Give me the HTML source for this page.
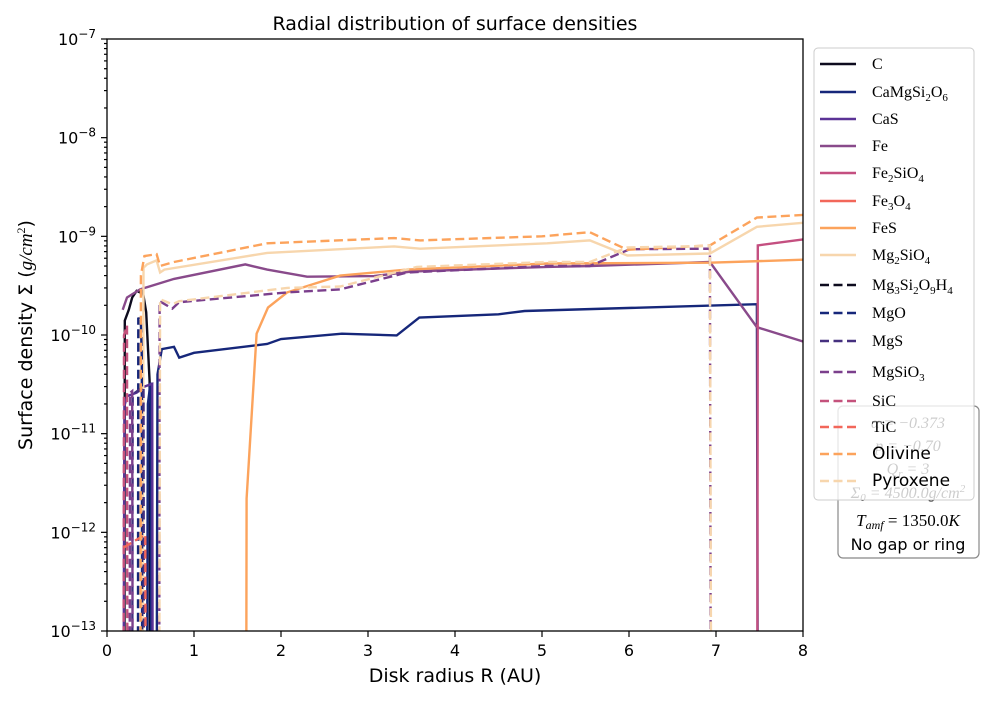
<!DOCTYPE html>
<html><head><meta charset="utf-8"><style>
html,body{margin:0;padding:0;background:#fff;}
svg text{font-family:"DejaVu Sans","Liberation Sans",sans-serif;}
.serif{font-family:"Liberation Serif","DejaVu Serif",serif;}
</style></head><body>
<svg id="chart" width="1000" height="700" xmlns="http://www.w3.org/2000/svg">
<defs><clipPath id="pc"><rect x="107" y="39" width="696" height="592"/></clipPath></defs>
<text x="455" y="30" font-size="19" text-anchor="middle">Radial distribution of surface densities</text>
<text x="455" y="682" font-size="19" text-anchor="middle">Disk radius R (AU)</text>
<text transform="translate(32,335) rotate(-90)" font-size="19" text-anchor="middle">Surface density Σ (<tspan class="serif" font-style="italic">g/cm</tspan><tspan font-size="12" dy="-7" class="serif">2</tspan><tspan dy="7">)</tspan></text>
<g id="series" clip-path="url(#pc)"></g>
<rect x="107" y="39" width="696" height="592" fill="none" stroke="#000" stroke-width="1.3"/>
<g id="axes"></g>
<g>
<rect x="838" y="406" width="141" height="152" rx="5" fill="#fff" stroke="#888" stroke-width="1.2"/>
<text class="serif" x="908" y="428" font-size="16" text-anchor="middle" font-style="italic">α = −0.373</text>
<text class="serif" x="908" y="451" font-size="16" text-anchor="middle" font-style="italic">p = −0.70</text>
<text class="serif" x="908" y="474" font-size="16" text-anchor="middle" font-style="italic">Q<tspan font-size="11" dy="3">r</tspan><tspan dy="-3"> = 3</tspan></text>
<text class="serif" x="908" y="498" font-size="16" text-anchor="middle" font-style="italic">Σ<tspan font-size="11" dy="3">0</tspan><tspan dy="-3"> = 4500.0g/cm</tspan><tspan font-size="11" dy="-6">2</tspan></text>
<text class="serif" x="908" y="526" font-size="17" text-anchor="middle"><tspan font-style="italic">T</tspan><tspan font-size="12" dy="3" font-style="italic">amf</tspan><tspan dy="-3"> = 1350.0</tspan><tspan font-style="italic">K</tspan></text>
<text x="908" y="550" font-size="16" text-anchor="middle">No gap or ring</text>
</g>
<g id="legend">
<rect x="814" y="48" width="160" height="452" rx="4" fill="rgba(255,255,255,0.8)" stroke="#ccc" stroke-width="1"/>
</g>
</svg>
<script>
const NS='http://www.w3.org/2000/svg';
const names=['C','CaMgSi2O6','CaS','Fe','Fe2SiO4','Fe3O4','FeS','Mg2SiO4','Mg3Si2O9H4','MgO','MgS','MgSiO3','SiC','TiC','Olivine','Pyroxene'];
const colors=['#0d0b1e','#16277a','#5b3396','#894a8b','#c44f80','#f2675a','#fca35c','#f7d6ad','#0d0b1e','#16277a','#45307f','#7b3f8c','#c4527c','#f2675a','#fca35c','#f7d6ad'];
const dashed=[false,false,false,false,false,false,false,false,true,true,true,true,true,true,true,true];
const xTicks=[0,1,2,3,4,5,6,7,8];
const yTickExp=[-13,-12,-11,-10,-9,-8,-7];
const sC=[[0.2,1e-14],[0.205,1.4e-10],[0.25,1.8e-10],[0.29,2.4e-10],[0.34,2.8e-10],[0.38,2.7e-10],[0.41,2.8e-10],[0.45,1.7e-10],[0.49,3.4e-11],[0.495,1e-14]];
const sCaMgSi2O6=[[0.46,1e-14],[0.47,2e-11],[0.5,3.3e-11],[0.51,1e-14],[0.57,1e-14],[0.58,4e-11],[0.63,7.2e-11],[0.77,7.6e-11],[0.83,5.9e-11],[1.0,6.6e-11],[1.84,8.1e-11],[2.0,9.1e-11],[2.7,1.03e-10],[3.33,9.9e-11],[3.59,1.5e-10],[4.5,1.62e-10],[4.8,1.75e-10],[7.47,2.05e-10],[7.48,1e-14]];
const sCaS=[[0.19,1e-14],[0.2,1.9e-11],[0.23,2.4e-11],[0.34,2.6e-11],[0.43,3e-11],[0.52,3.2e-11],[0.525,1e-14]];
const sFe=[[0.18,1.8e-10],[0.23,2.4e-10],[0.38,2.9e-10],[0.77,3.7e-10],[1.59,5.2e-10],[1.84,4.6e-10],[2.3,3.9e-10],[3.07,3.95e-10],[3.5,4.4e-10],[5.06,4.9e-10],[5.55,5.0e-10],[6.93,5.5e-10],[7.47,1.2e-10],[8,8.6e-11]];
const sFe2SiO4=[[7.475,1e-14],[7.48,8.1e-10],[8,9.3e-10]];
const sFe3O4=[];
const sFeS=[[1.6,1e-14],[1.605,2.2e-12],[1.72,1.03e-10],[1.85,1.9e-10],[2.07,2.7e-10],[2.68,4.0e-10],[3.45,4.6e-10],[5.06,5.3e-10],[6.93,5.4e-10],[8,5.8e-10]];
const sMg2SiO4=[[0.41,1e-14],[0.42,4.8e-10],[0.46,5.2e-10],[0.57,5.7e-10],[0.61,4.3e-10],[0.66,4.6e-10],[1.84,6.8e-10],[3.3,7.9e-10],[3.6,7.5e-10],[5.06,8.5e-10],[5.55,9.1e-10],[5.98,6.4e-10],[6.93,6.7e-10],[7.47,1.25e-9],[8,1.37e-9]];
const sMg3Si2O9H4=[];
const sMgO=[[0.355,1e-14],[0.36,1.5e-10],[0.39,1.3e-10],[0.4,6e-11],[0.405,1e-14]];
const sMgS=[[0.29,1e-14],[0.295,2.5e-11],[0.42,3e-11],[0.425,1e-14]];
const sMgSiO3=[[0.26,1e-14],[0.265,2.6e-11],[0.29,2.7e-11],[0.295,1e-14],[0.6,1e-14],[0.605,2.2e-10],[0.75,1.85e-10],[0.83,2.15e-10],[2.07,2.7e-10],[2.68,2.9e-10],[3.45,4.3e-10],[5.06,5.0e-10],[5.55,5.0e-10],[6.01,7.4e-10],[6.93,7.5e-10],[6.94,1e-14]];
const sSiC=[[0.19,1e-14],[0.195,1.0e-10],[0.23,1.25e-10],[0.235,1e-14]];
const sTiC=[[0.19,7e-13],[0.44,9.5e-13],[0.445,1e-14]];
const sOlivine=[[0.385,1e-14],[0.39,4e-10],[0.43,6.3e-10],[0.57,6.6e-10],[0.61,5.0e-10],[0.77,5.5e-10],[1.84,8.5e-10],[3.3,9.6e-10],[3.6,9.1e-10],[5.0,1.0e-9],[5.55,1.1e-9],[5.98,7.3e-10],[6.93,8.1e-10],[7.47,1.55e-9],[8,1.65e-9]];
const sPyroxene=[[0.6,1e-14],[0.61,2.3e-10],[0.75,2.05e-10],[0.83,2.2e-10],[2.07,3.0e-10],[2.68,3.1e-10],[3.56,4.9e-10],[5.06,5.5e-10],[5.55,5.5e-10],[5.98,7.7e-10],[6.93,8.0e-10],[6.945,1e-14]];
const allSeries=[sC,sCaMgSi2O6,sCaS,sFe,sFe2SiO4,sFe3O4,sFeS,sMg2SiO4,sMg3Si2O9H4,sMgO,sMgS,sMgSiO3,sSiC,sTiC,sOlivine,sPyroxene];
const X0=107,X1=803,Y0=631,Y1=39;
function xs(r){return X0+(r-0)/(8-0)*(X1-X0);}
function ys(v){return Y0-(Math.log10(v)-(-13))/6*(Y0-Y1);}
const sg=document.getElementById('series');
allSeries.forEach((s,i)=>{
  if(!s.length)return;
  const p=document.createElementNS(NS,'path');
  p.setAttribute('d',s.map((pt,j)=>(j?'L':'M')+xs(pt[0]).toFixed(1)+','+ys(pt[1]).toFixed(1)).join(''));
  p.setAttribute('fill','none');p.setAttribute('stroke',colors[i]);p.setAttribute('stroke-width','2.4');
  if(dashed[i])p.setAttribute('stroke-dasharray','9,4.5');
  
  
  sg.appendChild(p);
});
const ax=document.getElementById('axes');
function line(x1,y1,x2,y2,n){const l=document.createElementNS(NS,'line');l.setAttribute('x1',x1);l.setAttribute('y1',y1);l.setAttribute('x2',x2);l.setAttribute('y2',y2);l.setAttribute('stroke','#000');l.setAttribute('stroke-width','1.2');


ax.appendChild(l);}
xTicks.forEach(t=>{const x=xs(t);line(x,631,x,637,'x-tick');
 const tx=document.createElementNS(NS,'text');tx.setAttribute('x',x);tx.setAttribute('y',656);tx.setAttribute('font-size','16');tx.setAttribute('text-anchor','middle');tx.textContent=t;
 
 
 ax.appendChild(tx);});
yTickExp.forEach(e=>{const y=ys(Math.pow(10,e));line(101,y,107,y,'y-tick');
 if(e<-7){for(let k=2;k<10;k++){const yy=ys(k*Math.pow(10,e));line(104,yy,107,yy,'y-minor-tick');}}
 const tx=document.createElementNS(NS,'text');tx.setAttribute('x',96);tx.setAttribute('y',y+6);tx.setAttribute('font-size','16');tx.setAttribute('text-anchor','end');
 tx.innerHTML='10<tspan font-size="12" dy="-7">−'+(-e)+'</tspan>';
 
 
 ax.appendChild(tx);});
const lg=document.getElementById('legend');
const labelHtml=['C','CaMgSi<tspan font-size="11" dy="4">2</tspan><tspan dy="-4">O</tspan><tspan font-size="11" dy="4">6</tspan>','CaS','Fe','Fe<tspan font-size="11" dy="4">2</tspan><tspan dy="-4">SiO</tspan><tspan font-size="11" dy="4">4</tspan>','Fe<tspan font-size="11" dy="4">3</tspan><tspan dy="-4">O</tspan><tspan font-size="11" dy="4">4</tspan>','FeS','Mg<tspan font-size="11" dy="4">2</tspan><tspan dy="-4">SiO</tspan><tspan font-size="11" dy="4">4</tspan>','Mg<tspan font-size="11" dy="4">3</tspan><tspan dy="-4">Si</tspan><tspan font-size="11" dy="4">2</tspan><tspan dy="-4">O</tspan><tspan font-size="11" dy="4">9</tspan><tspan dy="-4">H</tspan><tspan font-size="11" dy="4">4</tspan>','MgO','MgS','MgSiO<tspan font-size="11" dy="4">3</tspan>','SiC','TiC','Olivine','Pyroxene'];
const rowY=[64,92,119,146,173,201,228,255,285,313,341,372,401,427,454,481];
names.forEach((n,i)=>{
 const g=document.createElementNS(NS,'g');
 
 
 const l=document.createElementNS(NS,'line');l.setAttribute('x1',820);l.setAttribute('x2',856);l.setAttribute('y1',rowY[i]);l.setAttribute('y2',rowY[i]);
 l.setAttribute('stroke',colors[i]);l.setAttribute('stroke-width','2.4');if(dashed[i])l.setAttribute('stroke-dasharray','9,4.5');
 g.appendChild(l);
 const t=document.createElementNS(NS,'text');t.setAttribute('x',872);t.setAttribute('y',rowY[i]+5);
 t.setAttribute('font-size', i>=14?'17':'16');
 if(i<14)t.setAttribute('class','serif');
 t.innerHTML=labelHtml[i];g.appendChild(t);lg.appendChild(g);
});
</script>
</body></html>
